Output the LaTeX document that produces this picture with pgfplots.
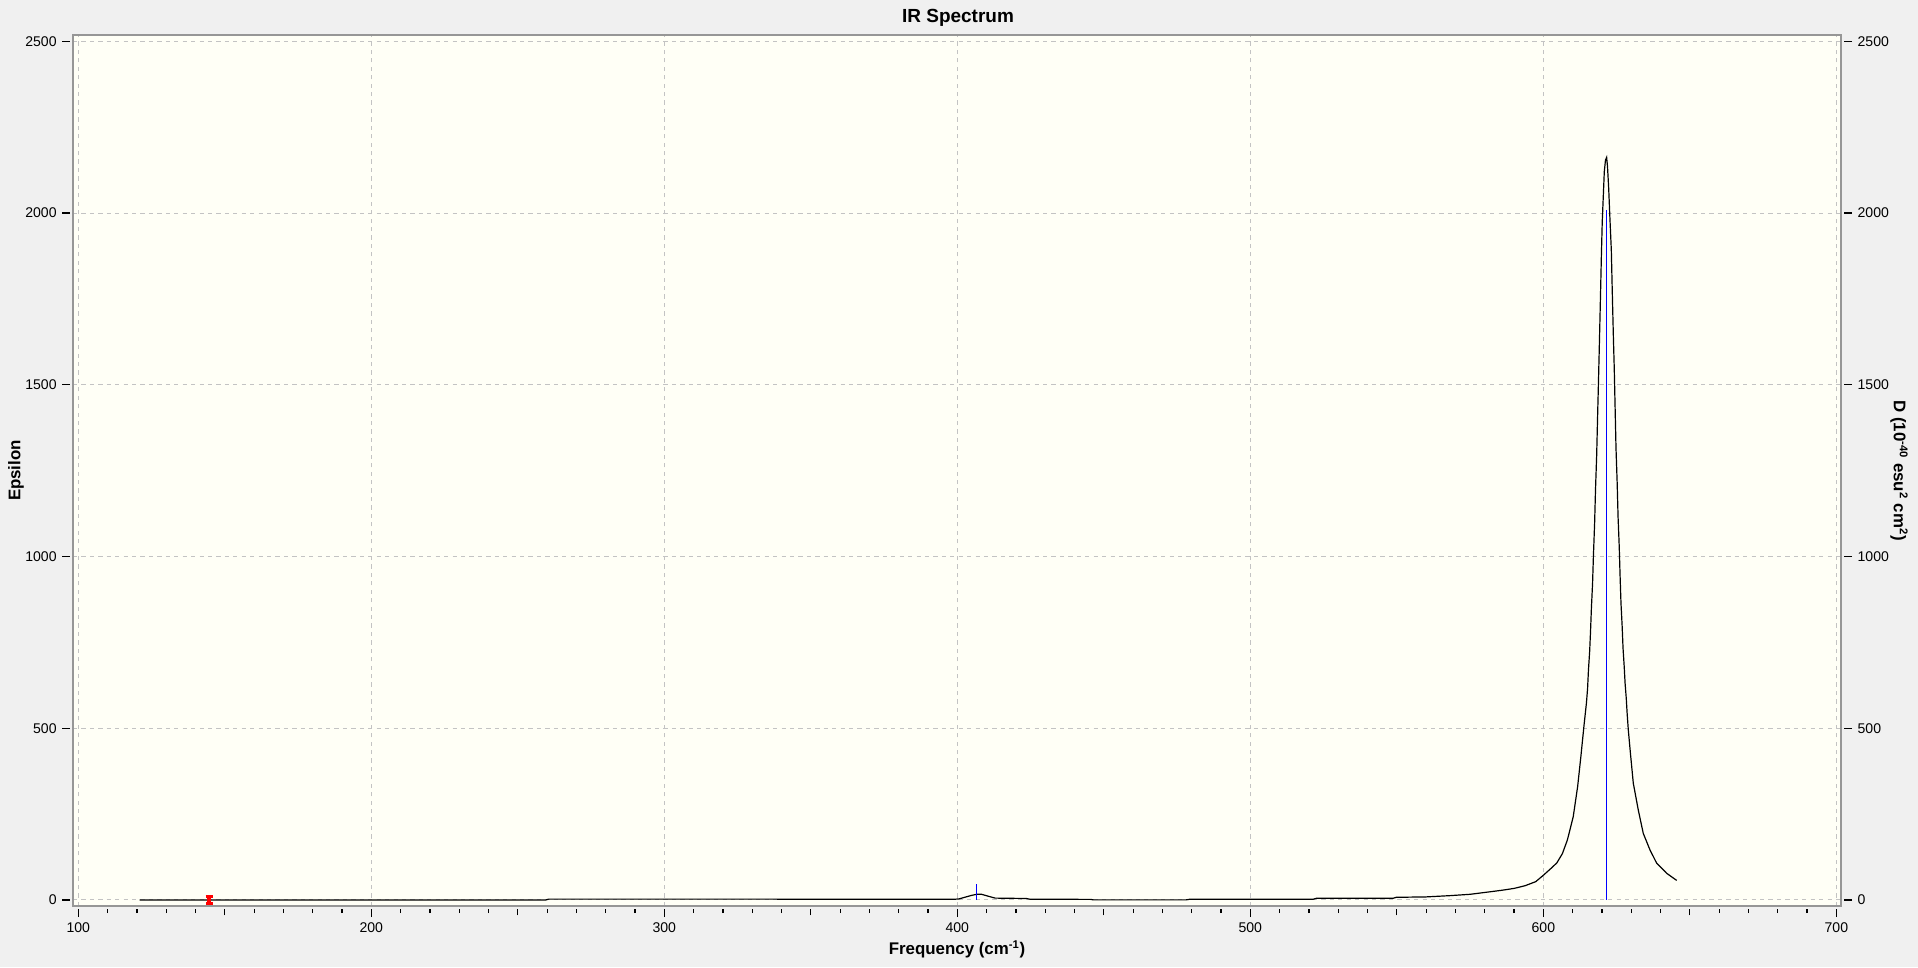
\documentclass[border=0pt]{standalone}
\usepackage{fontspec}
\setmainfont{Liberation Sans}
\usepackage{pgfplots}
\pgfplotsset{compat=1.18}
\definecolor{outerbg}{RGB}{240,240,240}
\definecolor{plotbg}{RGB}{255,255,246}
\definecolor{framegray}{RGB}{150,150,150}
\definecolor{gridgray}{RGB}{195,195,195}
\pgfplotsset{
 myaxis/.style={
  scale only axis, width=442mm, height=217.75mm,
  at={(18.25mm,15.25mm)}, anchor=south west,
  xmin=98.19, xmax=701.6, ymin=-17.5, ymax=2518.3,
  /pgf/number format/assume math mode=true,
  /pgf/number format/set thousands separator={},
  tick label style={font=\fontsize{10}{11}\selectfont},
  label style={font=\bfseries\fontsize{12}{14}\selectfont},
  tick align=outside,
 }
}
\begin{document}
\begin{tikzpicture}
\fill[outerbg] (0,0) rectangle (479.5mm,241.75mm);
\begin{axis}[myaxis,
  axis background/.style={fill=plotbg},
  axis line style={framegray, line width=0.35mm},
  xtick={100,200,...,700}, ytick={0,500,...,2500},
  minor x tick num=9,
  extra x ticks={150,250,350,450,550,650}, extra x tick labels={},
  extra x tick style={grid=none, major tick length=1.6mm},
  xtick pos=bottom, ytick pos=left,
  major tick length=2mm, minor tick length=1mm,
  tick style={black, line width=0.3mm},
  xtick style={yshift=-0.75mm}, ytick style={xshift=-0.75mm},
  yticklabel style={xshift=-0.85mm},
  xticklabel style={yshift=-1.0mm},
  grid=major, grid style={gridgray, dashed, line width=0.25mm},
  xlabel={Frequency (cm\textsuperscript{-1})}, ylabel={Epsilon},
  xlabel style={at={(axis description cs:0.5,-0.0494)}, anchor=center},
  ylabel style={at={(axis description cs:-0.0322,0.5)}, anchor=center},
]
\addplot[black, line width=0.3mm] coordinates {
(120.9,0) (200,0) (259.5,0) (260.5,2.5) (330,2.5) (399,2.2) (400.5,3)
(402.1,6.8) (404.9,13.6) (406.6,16.5) (408.3,16.5) (410.3,11.6) (412.9,5.5)
(418,4.9) (423.5,4.5) (424.8,2.2) (445.5,1.8) (446.5,0.3) (478,0.3) (479.2,2)
(521.5,2.2) (522.5,4.9) (548.8,5.2) (549.8,7.8) (560,9) (568,12.6) (574.9,16.5)
(582.2,24.3) (586.5,29.1) (590.1,33.9) (593.8,41.7) (597.4,53.4) (600.0,72)
(602.9,94.2) (604.6,108) (606.5,135) (608.2,174.7) (610.2,242.5) (611.7,330)
(612.8,417) (613.9,510) (614.7,573) (615.1,616) (615.4,670) (615.8,723)
(616.1,781) (616.4,849) (616.8,922) (617.1,1004) (617.5,1097) (617.8,1194)
(618.2,1295) (618.5,1402) (618.8,1504) (619.1,1610) (619.5,1758) (619.8,1873)
(620.1,1974) (620.5,2057) (620.8,2120) (621.2,2154) (621.6,2162) (621.9,2135)
(622.3,2072) (622.7,1989) (623.2,1892) (623.5,1780) (623.9,1640) (624.2,1548)
(624.5,1431) (624.8,1315) (625.2,1213) (625.5,1116) (625.9,1029) (626.2,941)
(626.5,864) (626.9,796) (627.2,733) (627.6,679) (627.9,631) (628.3,587)
(628.6,543) (629.0,495) (629.8,420) (630.7,340) (632.4,262) (634.1,194)
(636.4,145.6) (638.7,106.8) (642.1,77.7) (645.5,57)
};
\addplot[blue, line width=0.3mm] coordinates {(621.5,0) (621.5,2008)};
\addplot[blue, line width=0.3mm] coordinates {(406.6,0) (406.6,48)};
\addplot[red, draw=none, mark=none,
  error bars/.cd, y dir=both, y explicit, error mark=|,
  error bar style={draw=red, line width=1.0mm},
  error mark options={draw=red, line width=0.7mm, mark size=0.9mm}]
  coordinates {(144.7,0) +- (0,10)};
\draw[black, line width=0.3mm] ([xshift=-0.75mm]axis cs:98.19,0) -- ([xshift=-0.75mm]axis cs:98.19,2500);
\draw[black, line width=0.3mm] ([xshift=0.75mm]axis cs:701.6,0) -- ([xshift=0.75mm]axis cs:701.6,2500);
\end{axis}
\begin{axis}[myaxis,
  hide x axis, axis y line*=right, y axis line style={draw=none},
  ytick={0,500,...,2500}, ytick pos=right,
  major tick length=2mm, tick style={black, line width=0.3mm},
  ytick style={xshift=0.75mm},
  yticklabel style={xshift=0.9mm},
  ylabel={D (10\textsuperscript{-40} esu\textsuperscript{2} cm\textsuperscript{2})},
  ylabel style={at={(axis description cs:1.0328,0.5)}, anchor=center, rotate=180},
]
\end{axis}
\node[font=\bfseries\fontsize{13.5}{15}\selectfont] at (239.5mm,237.25mm) {IR Spectrum};
\end{tikzpicture}
\end{document}
